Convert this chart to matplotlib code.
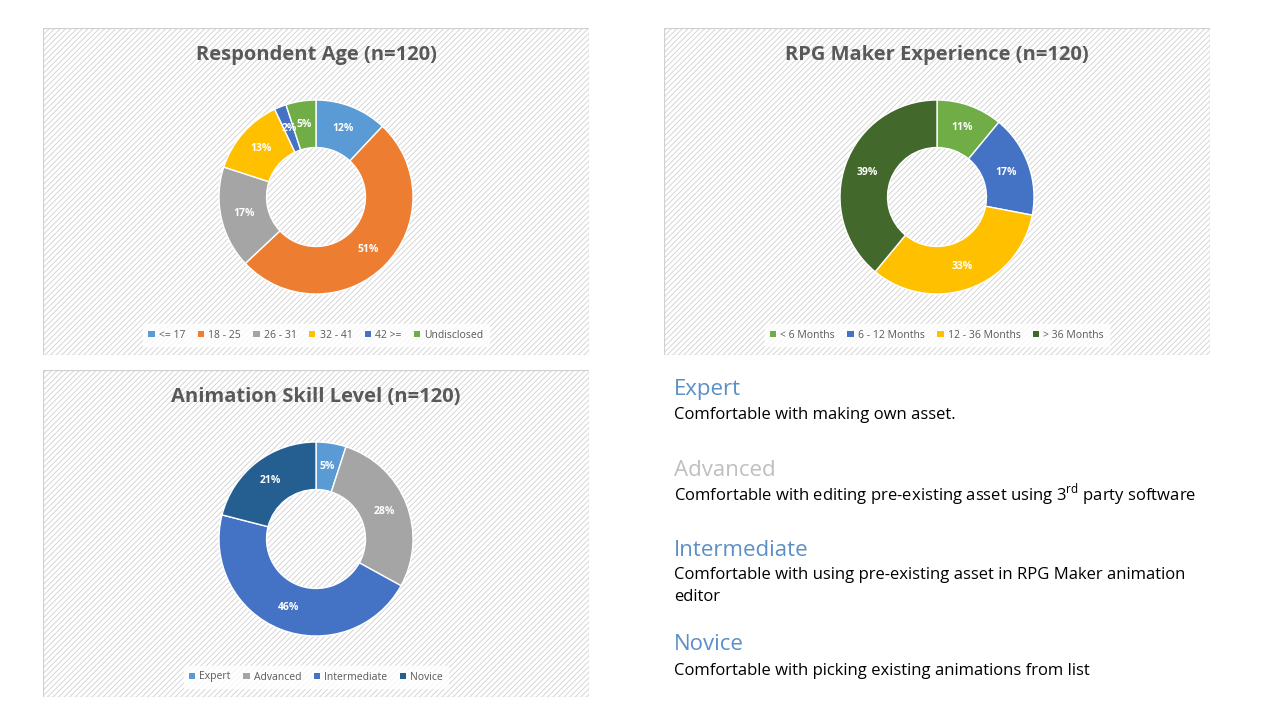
import matplotlib
matplotlib.use("Agg")
import matplotlib.pyplot as plt
from matplotlib.patches import Rectangle, Patch

plt.rcParams['font.family'] = ['Open Sans', 'DejaVu Sans']

age_labels = ["<= 17", "18 - 25", "26 - 31", "32 - 41", "42 >=", "Undisclosed"]
age_values = [12, 51, 17, 13, 2, 5]
age_colors = ["#5B9BD5", "#ED7D31", "#A5A5A5", "#FFC000", "#4472C4", "#70AD47"]

exp_labels = ["< 6 Months", "6 - 12 Months", "12 - 36 Months", "> 36 Months"]
exp_values = [11, 17, 33, 39]
exp_colors = ["#70AD47", "#4472C4", "#FFC000", "#43682B"]

skill_labels = ["Expert", "Advanced", "Intermediate", "Novice"]
skill_values = [5, 28, 46, 21]
skill_colors = ["#5B9BD5", "#A5A5A5", "#4472C4", "#255E91"]

W, H = 1280, 720
fig = plt.figure(figsize=(12.8, 7.2), dpi=100)

def ax_px(x0, y0, w, h):
    return fig.add_axes([x0 / W, 1 - (y0 + h) / H, w / W, h / H])

def panel(x0, y0, title, labels, values, colors, cx, cy):
    w, h = 546, 327
    bg = ax_px(x0, y0, w, h)
    bg.set_xlim(0, 1); bg.set_ylim(0, 1); bg.axis('off')
    plt.rcParams['hatch.color'] = '#EBEBEB'
    plt.rcParams['hatch.linewidth'] = 0.6
    bg.add_patch(Rectangle((0, 0), 1, 1, facecolor='white', edgecolor='#D0D0D0',
                           hatch='//////', lw=0.8, transform=bg.transAxes))
    bg.add_patch(Rectangle((0, 0), 1, 1, facecolor='none', edgecolor='#D0D0D0',
                           lw=0.8, transform=bg.transAxes))
    bg.text(0.5, 1 - 27 / h, title, ha='center', va='center', fontsize=14.5,
            fontweight='bold', color='#595959')
    r = 97
    pa = ax_px(cx - r - 2, cy - r - 2, 2 * r + 4, 2 * r + 4)
    wedges, _ = pa.pie(values, colors=colors, startangle=90, counterclock=False,
                       radius=r / (r + 2), wedgeprops=dict(width=0.49 * r / (r + 2),
                                                           edgecolor='white', linewidth=1))
    import numpy as np
    ang = 90.0
    tot = sum(values)
    for v in values:
        mid = ang - v / tot * 360 / 2
        ang -= v / tot * 360
        rr = 0.76 * r / (r + 2)
        pa.text(rr * np.cos(np.radians(mid)), rr * np.sin(np.radians(mid)), f"{v}%",
                ha='center', va='center', color='white', fontsize=7.5, fontweight='bold')
    pa.set_aspect('equal')
    pa.set_xlim(-1, 1); pa.set_ylim(-1, 1)
    handles = [Patch(facecolor=c, label=l) for c, l in zip(colors, labels)]
    leg = bg.legend(handles=handles, loc='center', bbox_to_anchor=(0.5, 1 - 307 / h),
                    ncol=len(labels), fontsize=7.5, frameon=True, fancybox=False,
                    handlelength=0.6, handleheight=0.6, handletextpad=0.4,
                    columnspacing=1.2, borderpad=0.5, edgecolor='white')
    for t in leg.get_texts():
        t.set_color('#595959')

panel(43, 28, "Respondent Age (n=120)", age_labels, age_values, age_colors, 316, 197)
panel(664, 28, "RPG Maker Experience (n=120)", exp_labels, exp_values, exp_colors, 937, 197)
panel(43, 370, "Animation Skill Level (n=120)", skill_labels, skill_values, skill_colors, 316, 539)

def ftext(x, y, s, **kw):
    fig.text(x / W, 1 - y / H, s, va='center', ha='left', **kw)

blue = '#5B8FC7'
ftext(674, 390, "Expert", fontsize=16, color=blue)
ftext(674, 415, "Comfortable with making own asset.", fontsize=12, color='black')
ftext(674, 470, "Advanced", fontsize=16, color='#BFBFBF')
ftext(674, 495, r"Comfortable with editing pre-existing asset using 3$^{\mathregular{rd}}$ party software",
      fontsize=12, color='black')
ftext(674, 550, "Intermediate", fontsize=16, color=blue)
ftext(674, 575, "Comfortable with using pre-existing asset in RPG Maker animation", fontsize=12, color='black')
ftext(674, 597, "editor", fontsize=12, color='black')
ftext(674, 645, "Novice", fontsize=16, color=blue)
ftext(674, 671, "Comfortable with picking existing animations from list", fontsize=12, color='black')

fig.savefig("out.png", dpi=100)
